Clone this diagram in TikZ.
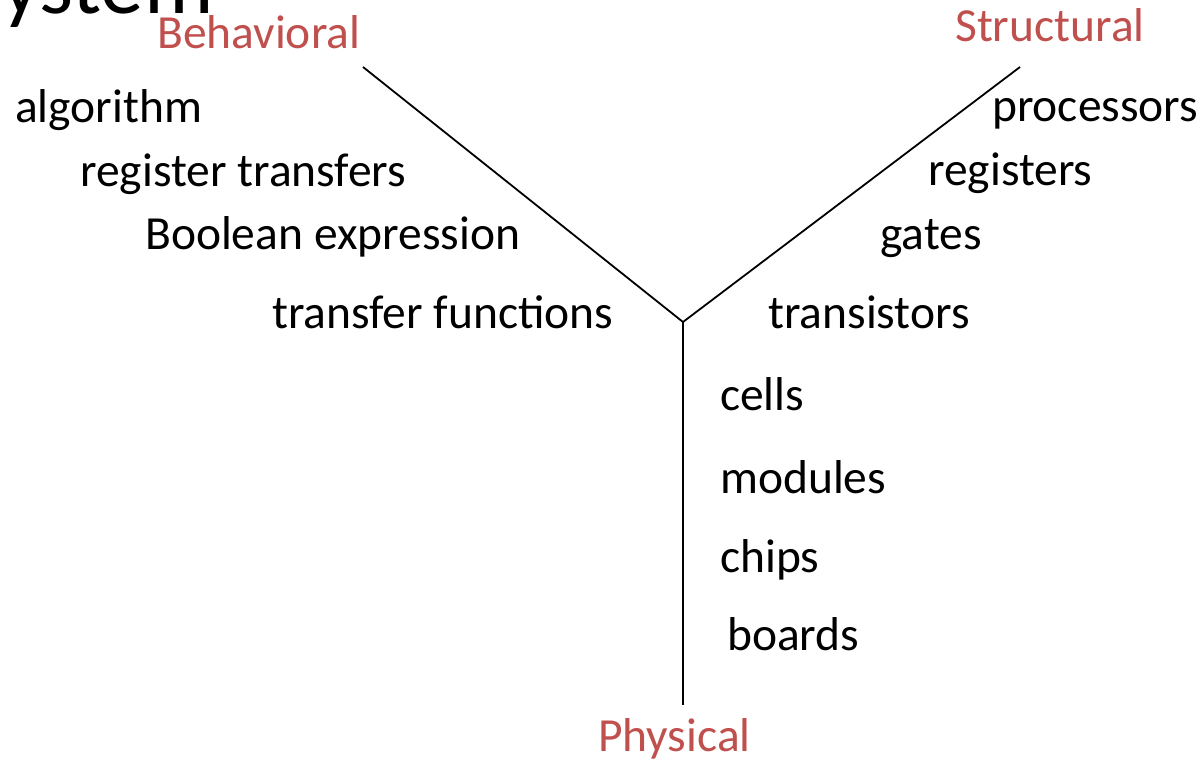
\documentclass[tikz,border=0pt]{standalone}
\usepackage{fontspec}
\setmainfont{Carlito}
\definecolor{viewred}{HTML}{C0504D}
\begin{document}
\begin{tikzpicture}[x=1pt,y=-1pt,
  lbl/.style={anchor=base west,inner sep=0pt,font=\fontsize{47.5}{56}\selectfont},
  axis/.style={lbl,text=viewred},
  arm/.style={line width=1.8pt}]
\useasboundingbox (0,0) rectangle (1202,758);
\clip (0,0) rectangle (1202,758);
% slide title, partly off the top edge
\node[lbl,font=\fontsize{87}{100}\selectfont] (title) at (-38,13) {System};
% the three view axes
\node[axis] (beh) at (157,48) {Behavioral};
\node[axis] (str) at (955,41) {Structural};
\node[axis] (phy) at (598,751) {Physical};
\coordinate (centre) at (683,322);
\coordinate (behend) at (363,67);
\coordinate (strend) at (1020,67);
\coordinate (phyend) at (683,705);
\draw[arm] (behend) -- (centre) -- (strend);
\draw[arm] (centre) -- (phyend);
% behavioral levels
\node[lbl] (b1) at (15,122) {algorithm};
\node[lbl] (b2) at (80,186) {register transfers};
\node[lbl] (b3) at (145,249) {Boolean expression};
\node[lbl] (b4) at (272,328) {transfer functions};
% structural levels
\node[lbl] (s1) at (992,121) {processors};
\node[lbl] (s2) at (928,185) {registers};
\node[lbl] (s3) at (880,249) {gates};
\node[lbl] (s4) at (768,328) {transistors};
% physical levels
\node[lbl] (p1) at (720,410) {cells};
\node[lbl] (p2) at (720,493) {modules};
\node[lbl] (p3) at (720,572) {chips};
\node[lbl] (p4) at (727,650) {boards};
\end{tikzpicture}
\end{document}
